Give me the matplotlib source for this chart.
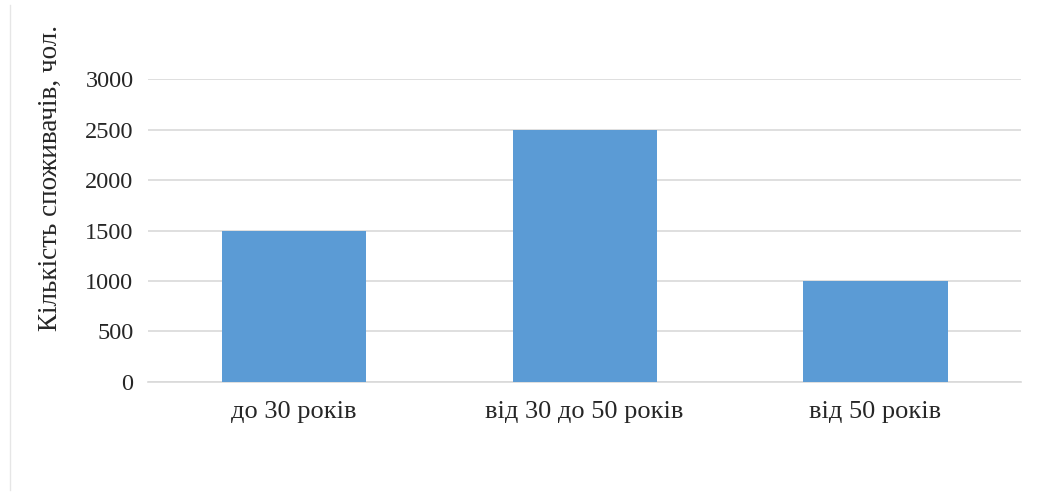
import matplotlib
matplotlib.use("Agg")
import matplotlib.pyplot as plt
from matplotlib.lines import Line2D

plt.rcParams['font.family'] = ['Liberation Serif', 'DejaVu Serif']

categories = ['до 30 років', 'від 30 до 50 років', 'від 50 років']
consumers = [1500, 2500, 1000]
yticks = [0, 500, 1000, 1500, 2000, 2500, 3000]

fig = plt.figure(figsize=(10.41, 4.92), dpi=100)
ax = fig.add_axes([0.1422, 0.2236, 0.8386, 0.6158])

ax.bar(range(len(categories)), consumers, width=0.495, color='#5B9BD5', zorder=3)

ax.set_xlim(-0.5, 2.5)
ax.set_ylim(0, 3000)
ax.set_yticks(yticks)
ax.set_xticks(range(len(categories)))
ax.set_xticklabels(categories)
ax.tick_params(axis='both', length=0, colors='#262626')
ax.tick_params(axis='y', labelsize=17.5, pad=10.5)
ax.tick_params(axis='x', labelsize=19, pad=14)
ax.grid(axis='y', color='#d9d9d9', linewidth=1.2, zorder=0)
for side in ['top', 'right', 'left']:
    ax.spines[side].set_visible(False)
ax.spines['bottom'].set_color('#d9d9d9')
ax.spines['bottom'].set_linewidth(1.2)

fig.text(0.048, 0.639, 'Кількість споживачів, чол.', rotation=90,
         ha='center', va='center', fontsize=19.5, color='#262626')

# thin frame line on the left edge
fig.add_artist(Line2D([0.0096, 0.0096], [0.005, 0.99], transform=fig.transFigure,
                      color='#e6e6e6', linewidth=1))

fig.savefig('out.png', dpi=100, facecolor='white')
